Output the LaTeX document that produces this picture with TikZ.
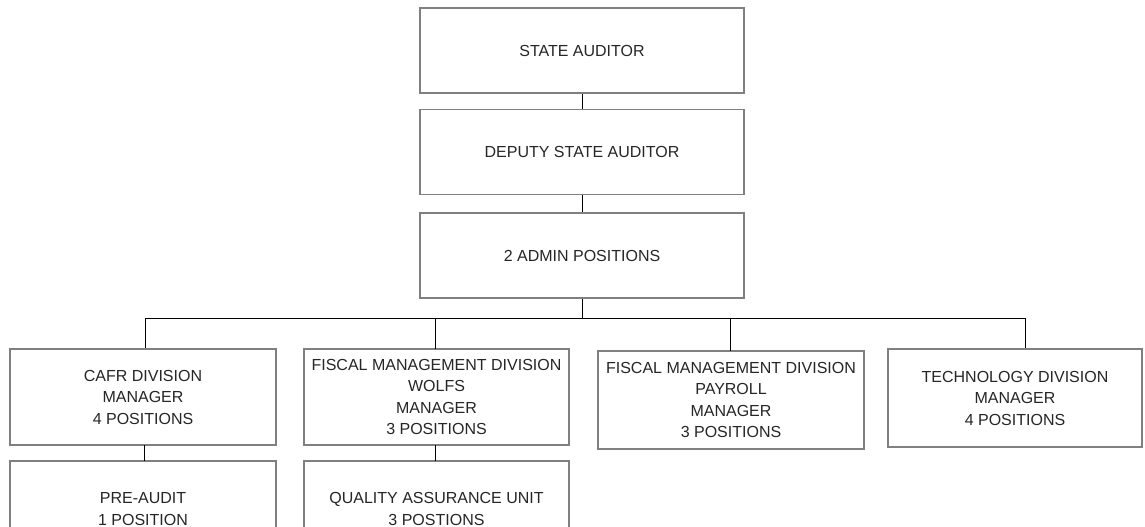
\documentclass[tikz,border=0pt]{standalone}
\usepackage{fontspec}
\setmainfont{Liberation Sans}
\begin{document}
\begin{tikzpicture}[x=1pt,y=-1pt,
  box/.style={draw=black!50, line width=1.4pt, fill=white, inner sep=0pt, align=center,
    font=\fontsize{16}{21.5}\selectfont, text=black!85},
  link/.style={draw=black, line width=0.9pt}]
\useasboundingbox (0,0) rectangle (1145,527);
\clip (0,0) rectangle (1145,527);
\fill[white] (0,0) rectangle (1145,527);
% top chain
\node[box, minimum width=324pt, minimum height=85pt] (sa) at (582,50.5) {\raisebox{-2pt}{STATE AUDITOR}};
\node[box, minimum width=324pt, minimum height=85pt] (dsa) at (582,152) {\raisebox{-2pt}{DEPUTY STATE AUDITOR}};
\node[box, minimum width=324pt, minimum height=85pt] (adm) at (582,255.5) {\raisebox{-2pt}{2 ADMIN POSITIONS}};
% second row
\node[box, minimum width=266pt, minimum height=96pt] (cafr) at (143,397) {CAFR DIVISION\\MANAGER\\4 POSITIONS};
\node[box, minimum width=265pt, minimum height=96pt] (wolfs) at (436.5,397) {FISCAL MANAGEMENT DIVISION\\WOLFS\\MANAGER\\3 POSITIONS};
\node[box, minimum width=266pt, minimum height=98pt] (pay) at (731,400) {FISCAL MANAGEMENT DIVISION\\PAYROLL\\MANAGER\\3 POSITIONS};
\node[box, minimum width=254pt, minimum height=98pt] (tech) at (1015,398) {TECHNOLOGY DIVISION\\MANAGER\\4 POSITIONS};
% third row
\node[box, minimum width=266pt, minimum height=96pt] (pre) at (143,509) {PRE-AUDIT\\1 POSITION};
\node[box, minimum width=265pt, minimum height=96pt] (qa) at (436.5,509) {QUALITY ASSURANCE UNIT\\3 POSTIONS};
% connectors
\draw[link] (sa.south) -- (dsa.north);
\draw[link] (dsa.south) -- (adm.north);
\coordinate (bus) at (582,318);
\coordinate (busL) at (145,318);
\coordinate (busR) at (1025,318);
\draw[link] (adm.south) -- (bus);
\draw[link] (busL) -- (busR);
\draw[link] (busL) -- (busL |- cafr.north);
\draw[link] (435,318) -- (435,349);
\draw[link] (730,318) -- (730,351);
\draw[link] (busR) -- (busR |- tech.north);
\draw[link] (144,445) -- (144,461);
\draw[link] (435,445) -- (435,461);
\end{tikzpicture}
\end{document}
